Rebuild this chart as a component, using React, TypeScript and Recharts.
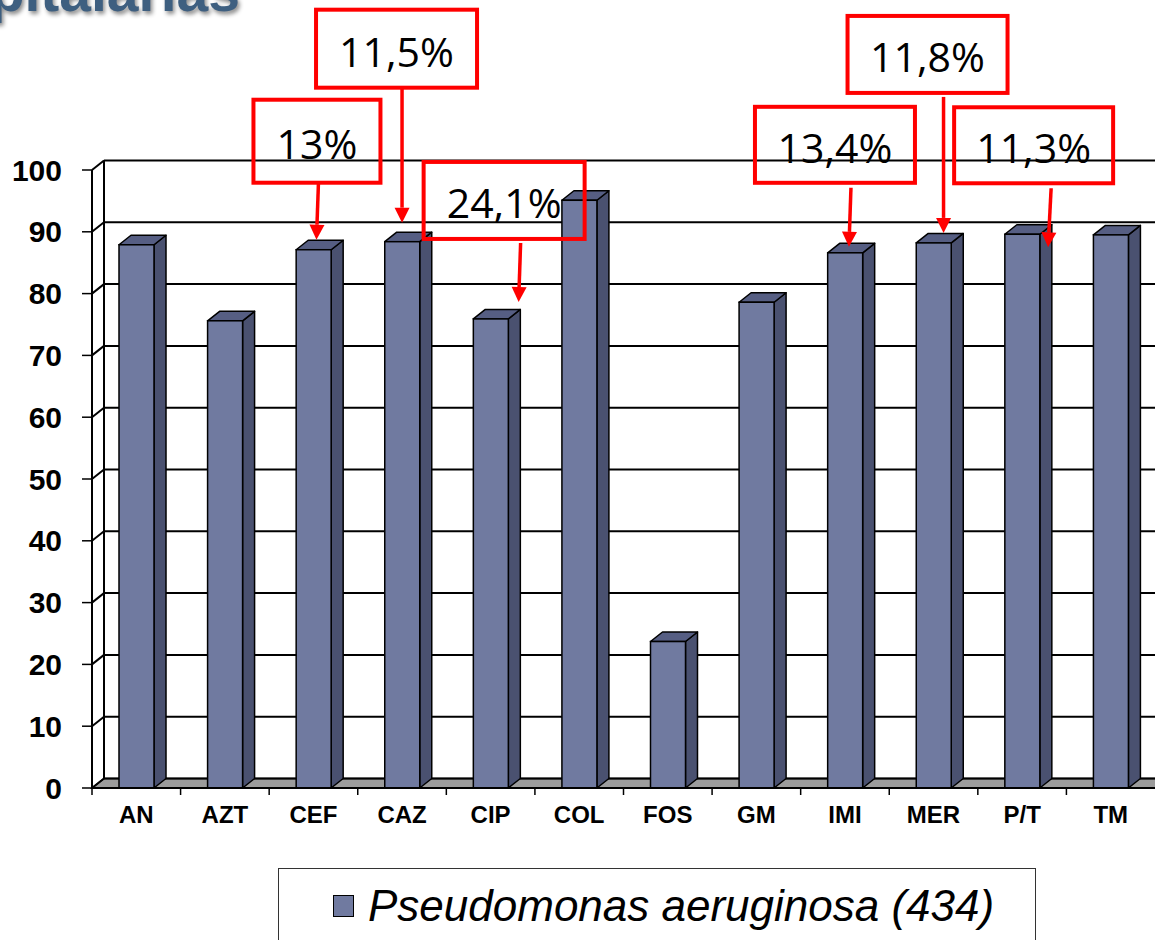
import React from "react";
import { BarChart, Bar, XAxis, YAxis, CartesianGrid, Legend, ReferenceDot } from "recharts";

const categories = ["AN", "AZT", "CEF", "CAZ", "CIP", "COL", "FOS", "GM", "IMI", "MER", "P/T", "TM"];
const susceptibility = [87.9, 75.6, 87.1, 88.4, 75.9, 95.1, 23.7, 78.6, 86.6, 88.2, 89.6, 89.5];
const yTicks = [0, 10, 20, 30, 40, 50, 60, 70, 80, 90, 100];
const seriesName = "Pseudomonas aeruginosa (434)";
const noteCategories = ["CEF", "CAZ", "CIP", "IMI", "MER", "P/T"];
const noteLabels = ["13%", "11,5%", "24,1%", "13,4%", "11,8%", "11,3%"];

const data = categories.map((name, i) => ({ name, value: susceptibility[i] }));

// callout placement in px, relative to the top of the bar it points at
const noteLayout = [
  { box: [-60, -150, 127, 83], from: [5, -67], to: [3, -10] },
  { box: [-86, -232, 161, 78], from: [0, -154], to: [0, -19] },
  { box: [-67, -157, 161, 77], from: [30, -76], to: [28, -17] },
  { box: [-90, -146, 160, 76], from: [6, -65], to: [4, -6] },
  { box: [-86, -227, 160, 77], from: [10, -146], to: [10, -10] },
  { box: [-68, -127, 159, 76], from: [29, -46], to: [26, 13] },
];

const DX = 12;
const DY = 9.5;
const FRONT = "#707aa0";
const SIDE = "#4a5170";
const TOP = "#565e83";

function WallLine(props: any) {
  const { x1, x2, y1, index, x, y, width, height } = props;
  const bottom = y + height;
  const isFloor = Math.abs(y1 - bottom) < 0.5;
  return (
    <g key={`wall-${index}`}>
      {isFloor ? (
        <polygon
          points={`${x},${bottom} ${x + width},${bottom} ${x + width + DX},${bottom - DY} ${x + DX},${bottom - DY}`}
          fill="#9c9c9c"
          stroke="#000"
          strokeWidth={1.5}
        />
      ) : null}
      <line x1={x1 + DX} y1={y1 - DY} x2={x2 + DX} y2={y1 - DY} stroke="#000" strokeWidth={2} />
      <line x1={x1} y1={y1} x2={x1 + DX} y2={y1 - DY} stroke="#000" strokeWidth={2} />
      {index === 0 ? (
        <line x1={x + DX} y1={y - DY} x2={x + DX} y2={bottom - DY} stroke="#000" strokeWidth={2} />
      ) : null}
    </g>
  );
}

function Bar3D(props: any) {
  const { x, y, width, height } = props;
  const r = x + width;
  return (
    <g>
      <polygon
        points={`${r},${y} ${r + DX},${y - DY} ${r + DX},${y + height - DY} ${r},${y + height}`}
        fill={SIDE}
        stroke="#000"
        strokeWidth={1.5}
        strokeLinejoin="round"
      />
      <polygon
        points={`${x},${y} ${x + DX},${y - DY} ${r + DX},${y - DY} ${r},${y}`}
        fill={TOP}
        stroke="#000"
        strokeWidth={1.5}
        strokeLinejoin="round"
      />
      <rect x={x} y={y} width={width} height={height} fill={FRONT} stroke="#000" strokeWidth={1.5} />
    </g>
  );
}

function CategoryTick(props: any) {
  const { x, y, payload } = props;
  const half = payload.offset ?? 44.3;
  return (
    <g>
      <line x1={x - half} y1={y - 8} x2={x - half} y2={y - 1} stroke="#000" strokeWidth={1.5} />
      <text
        x={x}
        y={y + 27}
        textAnchor="middle"
        fontFamily="'Liberation Sans', Arial, sans-serif"
        fontWeight="bold"
        fontSize={24}
        fill="#000"
      >
        {payload.value}
      </text>
    </g>
  );
}

function Callout({ cx, cy, label, layout }: any) {
  const [bx, by, bw, bh] = layout.box;
  const [fx, fy] = layout.from;
  const [tx, ty] = layout.to;
  const ang = Math.atan2(ty - fy, tx - fx);
  const head = 15;
  const half = 7.5;
  const hx = cx + tx - head * Math.cos(ang);
  const hy = cy + ty - head * Math.sin(ang);
  const px = -Math.sin(ang) * half;
  const py = Math.cos(ang) * half;
  return (
    <g>
      <rect x={cx + bx} y={cy + by} width={bw} height={bh} fill="none" stroke="#ff0000" strokeWidth={4} />
      <text
        x={cx + bx + bw / 2}
        y={cy + by + bh / 2 + 2}
        textAnchor="middle"
        dominantBaseline="central"
        fontFamily="'Open Sans', sans-serif"
        fontSize={41}
        fill="#000"
      >
        {label}
      </text>
      <line x1={cx + fx} y1={cy + fy} x2={hx} y2={hy} stroke="#ff0000" strokeWidth={3.5} />
      <polygon points={`${cx + tx},${cy + ty} ${hx + px},${hy + py} ${hx - px},${hy - py}`} fill="#ff0000" />
    </g>
  );
}

function LegendBox() {
  return (
    <div
      style={{
        width: 758,
        height: 120,
        boxSizing: "border-box",
        border: "1.5px solid #333",
        background: "#fff",
        display: "flex",
        alignItems: "flex-start",
      }}
    >
      <div style={{ display: "flex", alignItems: "center", height: 74, paddingLeft: 54 }}>
        <span
          style={{
            display: "inline-block",
            width: 19,
            height: 20,
            background: FRONT,
            border: "1.5px solid #000",
            marginRight: 14,
          }}
        />
        <span
          style={{
            fontFamily: "'Liberation Sans', Arial, sans-serif",
            fontStyle: "italic",
            fontSize: 44,
            color: "#000",
            whiteSpace: "nowrap",
          }}
        >
          {seriesName}
        </span>
      </div>
    </div>
  );
}

export default function App() {
  return (
    <div
      style={{
        position: "fixed",
        left: 0,
        top: 0,
        width: 1155,
        height: 940,
        overflow: "hidden",
        background: "#fff",
      }}
    >
      <svg width={400} height={60} style={{ position: "absolute", left: 0, top: 0, overflow: "visible" }}>
        <text
          x={240}
          y={11}
          textAnchor="end"
          fontFamily="'Liberation Sans', Arial, sans-serif"
          fontWeight="bold"
          fontSize={57}
          fill="#3e5f80"
          style={{ filter: "drop-shadow(2px 3px 2px rgba(0,0,0,0.45))" }}
        >
          hospitalarias
        </text>
      </svg>
      <BarChart
        width={1155}
        height={940}
        data={data}
        margin={{ top: 170, right: 0, bottom: 112, left: 0 }}
        barSize={35}
      >
        <CartesianGrid vertical={false} horizontal={WallLine} />
        <XAxis
          dataKey="name"
          height={40}
          tickLine={false}
          axisLine={{ stroke: "#000", strokeWidth: 2 }}
          tick={CategoryTick}
          interval={0}
        />
        <YAxis
          width={92}
          domain={[0, 100]}
          ticks={yTicks}
          interval={0}
          tickSize={10}
          tickMargin={20}
          axisLine={{ stroke: "#000", strokeWidth: 2 }}
          tickLine={{ stroke: "#000", strokeWidth: 1.5 }}
          tick={{
            fontSize: 30,
            fontWeight: "bold",
            fill: "#000",
            fontFamily: "'Liberation Sans', Arial, sans-serif",
          }}
        />
        <Legend
          layout="vertical"
          align="center"
          verticalAlign="middle"
          wrapperStyle={{ left: 278, top: 868, width: 758 }}
          content={() => <LegendBox />}
        />
        <Bar dataKey="value" name={seriesName} shape={Bar3D} isAnimationActive={false} />
        {noteCategories.map((cat, i) => (
          <ReferenceDot
            key={cat}
            x={cat}
            y={susceptibility[categories.indexOf(cat)]}
            ifOverflow="visible"
            shape={(p: any) => <Callout cx={p.cx} cy={p.cy} label={noteLabels[i]} layout={noteLayout[i]} />}
          />
        ))}
      </BarChart>
    </div>
  );
}
